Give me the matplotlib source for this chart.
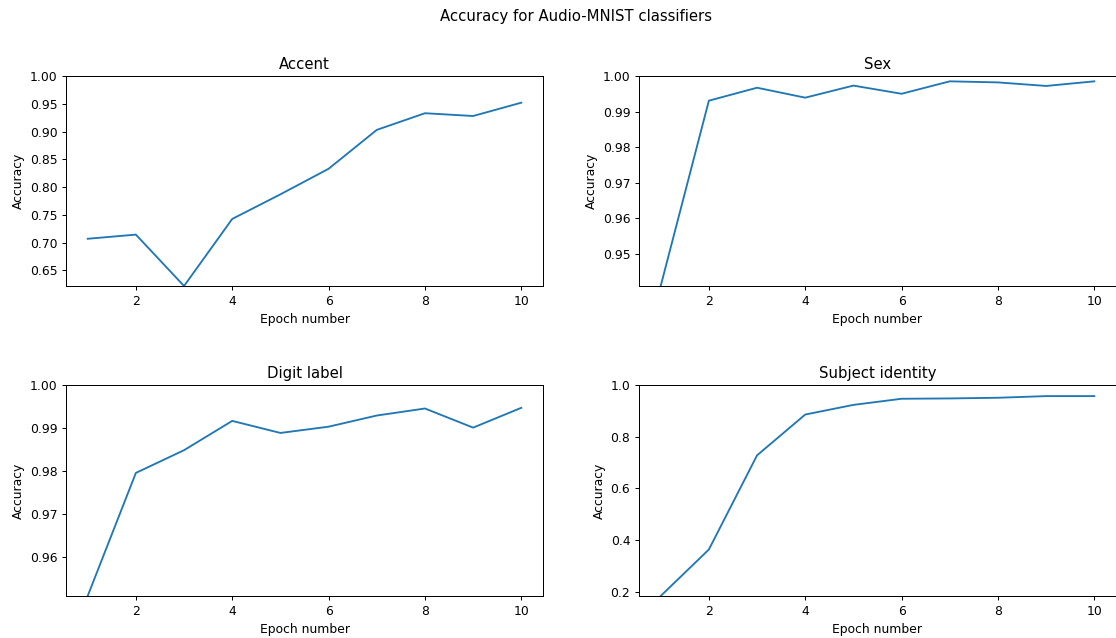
import matplotlib
matplotlib.use("Agg")
import matplotlib.pyplot as plt

epochs = [1, 2, 3, 4, 5, 6, 7, 8, 9, 10]

accent_acc = [0.707, 0.7145, 0.622, 0.7427, 0.787, 0.833, 0.903, 0.933, 0.928, 0.952]
sex_acc = [0.9409, 0.99305, 0.9967, 0.9939, 0.9973, 0.9950, 0.9985, 0.9982, 0.9972, 0.9985]
digit_acc = [0.9508, 0.9795, 0.9848, 0.99163, 0.98882, 0.99028, 0.99288, 0.99452, 0.99006, 0.99468]
subject_acc = [0.183, 0.363, 0.7276, 0.8856, 0.923, 0.9467, 0.948, 0.9506, 0.957, 0.957]

titles = ["Accent", "Sex", "Digit label", "Subject identity"]
series = [accent_acc, sex_acc, digit_acc, subject_acc]

W, H = 1116, 638
DPI = 89
fig = plt.figure(figsize=(W / DPI, H / DPI), dpi=DPI)

# axes boxes in pixels: (left, top, right, bottom)
boxes = [
    (66, 76, 543, 286),
    (639, 76, 1116, 286),
    (66, 385, 543, 596),
    (639, 385, 1116, 596),
]

for (l, t, r, b), title, acc in zip(boxes, titles, series):
    ax = fig.add_axes([l / W, 1 - b / H, (r - l) / W, (b - t) / H])
    ax.plot(epochs, acc, color="#1f77b4", linewidth=1.5)
    ax.set_ylim(min(acc), 1.0)
    ax.set_xticks([2, 4, 6, 8, 10])
    ax.set_title(title, fontsize=12)
    ax.set_xlabel("Epoch number", fontsize=10)
    ax.set_ylabel("Accuracy", fontsize=10)
    ax.tick_params(labelsize=10)

fig.text(575.5 / W, 1 - 16 / H, "Accuracy for Audio-MNIST classifiers",
         ha="center", va="center", fontsize=12)

fig.savefig("out.png", dpi=DPI)
